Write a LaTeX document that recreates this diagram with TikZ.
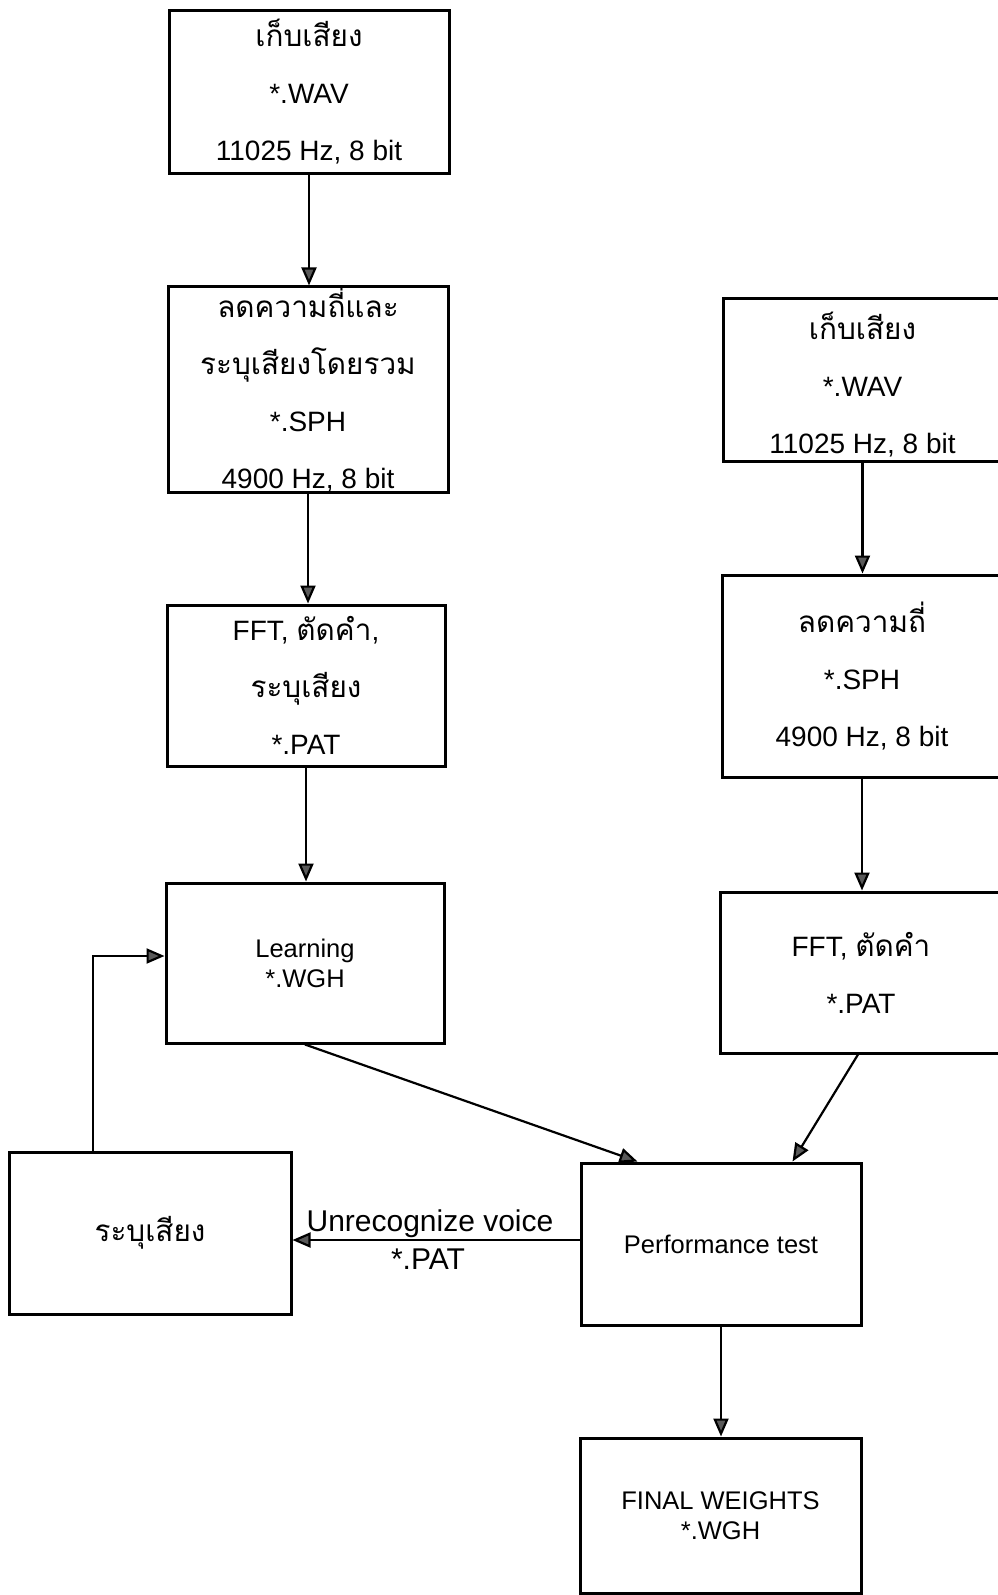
\documentclass[tikz,border=0pt]{standalone}
\usepackage{fontspec}
\setmainfont{Liberation Sans}
\newfontfamily\thaifont[Script=Thai,Scale=1.06]{Loma}
\newcommand{\thaitxt}[1]{{\thaifont #1}}
\usetikzlibrary{arrows.meta}
\tikzset{
  box/.style={draw, line width=3pt, rectangle, inner sep=0pt, align=center,
    font=\fontsize{28}{57}\selectfont},
  smallbox/.style={box, font=\fontsize{25.5}{30}\selectfont},
  arr/.style={line width=2.2pt, -{Triangle[width=15pt,length=18pt,fill=gray!70!black]}},
  lbl/.style={font=\fontsize{30}{34}\selectfont, inner sep=1pt}
}
\begin{document}
\begin{tikzpicture}[x=1pt,y=-1pt]
\useasboundingbox[fill=white] (0,0) rectangle (998,1595);
% left column
\node[box, minimum width=280, minimum height=162] (b1) at (309,92)
  {\thaitxt{เก็บเสียง}\\*.WAV\\11025 Hz, 8 bit};
\node[box, minimum width=280, minimum height=199] (b2) at (308,389.5)
  {\thaitxt{ลดความถี่และ}\\\thaitxt{ระบุเสียงโดยรวม}\\*.SPH\\4900 Hz, 8 bit};
\node[box, minimum width=278, minimum height=161] (b3) at (306,685.5)
  {FFT, \thaitxt{ตัดคำ},\\\thaitxt{ระบุเสียง}\\*.PAT};
\node[smallbox, minimum width=278, minimum height=160] (learn) at (305,963)
  {Learning\\*.WGH};
\node[box, minimum width=282, minimum height=162] (id) at (150,1233)
  {\thaitxt{ระบุเสียง}};
% right column
\node[box, minimum width=279, minimum height=163] (r1) at (862.5,379.5)
  {\rule{0pt}{37pt}\thaitxt{เก็บเสียง}\\*.WAV\\11025 Hz, 8 bit};
\node[box, minimum width=280, minimum height=202] (r2) at (862,676)
  {\thaitxt{ลดความถี่}\\*.SPH\\4900 Hz, 8 bit};
\node[box, minimum width=282, minimum height=161] (r3) at (861,972.5)
  {FFT, \thaitxt{ตัดคำ}\\*.PAT};
\node[smallbox, minimum width=280, minimum height=162] (perf) at (721,1244)
  {Performance test};
\node[smallbox, minimum width=281, minimum height=155] (final) at (720.5,1515.5)
  {FINAL WEIGHTS\\*.WGH};
% connectors
\draw[arr] (b1.south) -- (b1.south |- b2.north);
\draw[arr] (b2.south) -- (b2.south |- b3.north);
\draw[arr] (b3.south) -- (b3.south |- learn.north);
\draw[arr] (r1.south) -- (r1.south |- r2.north);
\draw[arr] (r2.south) -- (r2.south |- r3.north);
\draw[arr] (learn.south) -- ([xshift=58pt]perf.north west);
\draw[arr] ([xshift=-3pt]r3.south) -- ([xshift=-70pt]perf.north east);
\draw[arr] ([yshift=4pt]perf.west) -- ([yshift=4pt]perf.west -| id.east)
  node[lbl, midway, above, xshift=-6pt] (unrec) {Unrecognize voice}
  node[lbl, midway, below=7pt, xshift=-8pt] (pat) {*.PAT};
\draw[arr] ([xshift=-57pt]id.north) |- ([yshift=7pt]learn.west);
\draw[arr] (perf.south) -- (perf.south |- final.north);
\end{tikzpicture}
\end{document}
